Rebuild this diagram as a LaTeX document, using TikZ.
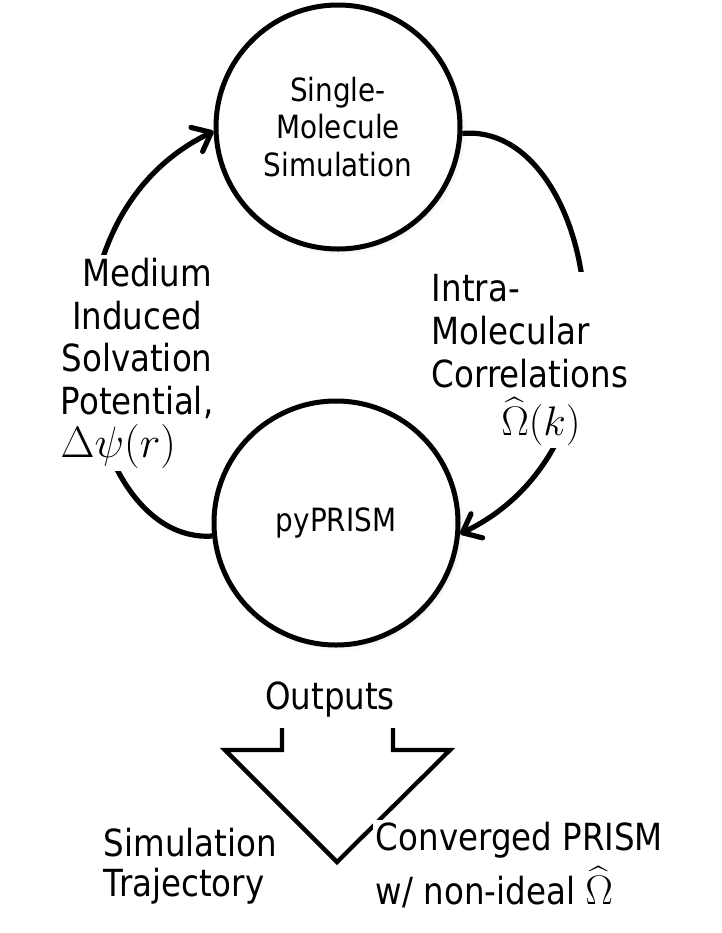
\RequirePackage{fix-cm}
\documentclass[tikz,border=0pt]{standalone}
\usepackage{exscale}
\usepackage{fontspec}
\setmainfont{DejaVu Sans}[FakeStretch=0.87]
\usetikzlibrary{arrows.meta,shadows,fadings}
\pgfdeclarelayer{conn}
\pgfdeclarelayer{lbl}
\pgfsetlayers{conn,lbl,main}
\newcommand{\bigmath}[1]{{\fontsize{33}{36}\selectfont$#1$}}
\newcommand{\midmath}[1]{{\fontsize{31}{34}\selectfont$#1$}}
\begin{document}
\begin{tikzpicture}[x=0.75pt,y=-0.75pt,
  stage/.style={circle, draw, line width=3.75pt, fill=white, minimum size=183pt,
    inner sep=0pt, align=center, font=\fontsize{24}{28}\selectfont,
    circular drop shadow={shadow xshift=1.5pt, shadow yshift=-1.5pt, shadow scale=1.03, opacity=0.35}},
  lbl/.style={fill=white, inner sep=2pt, font=\fontsize{28}{32}\selectfont},
  flow/.style={line width=3.9pt, -{Straight Barb[length=12pt,width=20pt,round]}},
  outline/.style={line width=3.2pt, line join=miter}]
\useasboundingbox (0,0) rectangle (722,933);

\node[stage] (sim) at (338,127) {Single-\\Molecule\\Simulation};
\node[stage] (prism) at (336,523) {pyPRISM};

\begin{pgfonlayer}{conn}
\draw[flow] (prism.186) .. controls (80,545) and (20,225) .. (sim.182);
\draw[flow] (sim.-3) .. controls (594,121) and (654,441) .. (prism.-5);
\end{pgfonlayer}

\begin{pgfonlayer}{lbl}
\node[lbl, align=center] (solv) at (137,363)
  {\hspace*{15pt}Medium\\Induced\\Solvation\\Potential,\\[0pt]\bigmath{\Delta\psi(r)}\hspace*{28pt}};
\node[lbl, align=left, anchor=west] (corr) at (429,360)
  {Intra-\\Molecular\\Correlations\\[4pt]\hspace*{52pt}\midmath{\widehat{\Omega}(k)}};
\end{pgfonlayer}

\node[lbl] (out) at (330,700) {Outputs};
\coordinate (sl) at (282,728);
\coordinate (sr) at (393,728);
\coordinate (tip) at (337,862);
\draw[outline] (sl) -- (282,750) -- (225,750) -- (tip) -- (450,750) -- (393,750) -- (sr);

\node[lbl, align=left, anchor=west, font=\fontsize{28}{30}\selectfont] (traj) at (101,866)
  {Simulation\\Trajectory};
\node[lbl, align=left, anchor=west, font=\fontsize{28}{30}\selectfont] (conv) at (373,865)
  {Converged PRISM\\[5pt]w/ non-ideal \midmath{\widehat{\Omega}}};
\end{tikzpicture}
\end{document}
